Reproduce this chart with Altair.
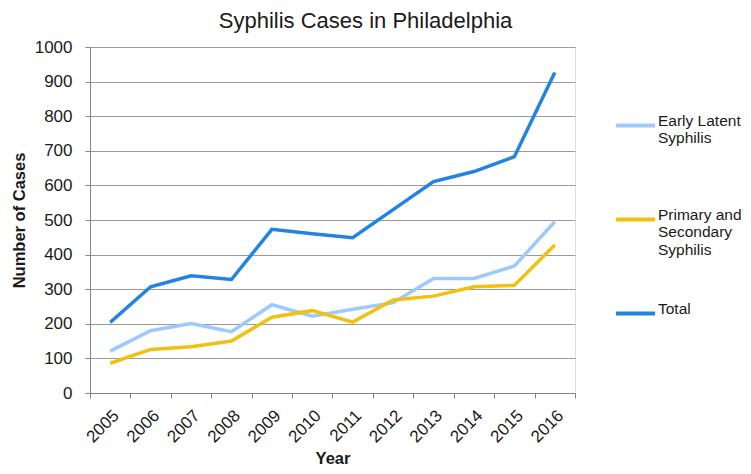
import altair as alt
import pandas as pd

years = ["2005", "2006", "2007", "2008", "2009", "2010", "2011", "2012", "2013", "2014", "2015", "2016"]
early_latent = [121, 180, 201, 177, 255, 222, 242, 261, 331, 331, 367, 495]
primary_secondary = [86, 126, 134, 150, 219, 238, 205, 269, 280, 307, 311, 428]
total = [204, 307, 339, 328, 473, 460, 449, 530, 611, 640, 683, 926]

series_names = ["Early Latent Syphilis", "Primary and Secondary Syphilis", "Total"]
series_colors = ["#9DC9FF", "#F2C010", "#2383E2"]

rows = []
for name, vals in zip(series_names, [early_latent, primary_secondary, total]):
    for y, v in zip(years, vals):
        rows.append({"Year": y, "Cases": v, "Series": name})
df = pd.DataFrame(rows)

FONT = "Liberation Sans"
TXT = "#1A1A1A"

label_expr = (
    "datum.label == 'Early Latent Syphilis' ? ['Early Latent', 'Syphilis'] : "
    "datum.label == 'Primary and Secondary Syphilis' ? ['Primary and', 'Secondary', 'Syphilis'] : datum.label"
)

chart = alt.Chart(df).mark_line(strokeWidth=3.5).encode(
    x=alt.X("Year:O", sort=years,
            scale=alt.Scale(type="band", paddingInner=0, paddingOuter=0),
            axis=alt.Axis(title="Year", labelAngle=-45, tickBand="extent",
                          tickSize=5, labelPadding=9, domainColor="#868686",
                          tickColor="#868686", labelColor=TXT,
                          labelFontSize=17, titleFontSize=16.5, titleFontWeight="bold",
                          titleColor=TXT, titlePadding=5, grid=False,
                          labelFont=FONT, titleFont=FONT)),
    y=alt.Y("Cases:Q",
            scale=alt.Scale(domain=[0, 1000], nice=False),
            axis=alt.Axis(title="Number of Cases", values=list(range(0, 1001, 100)),
                          format="d",
                          tickSize=5, labelPadding=13, domainColor="#868686",
                          tickColor="#868686", gridColor="#9A9A9A", gridWidth=1.2,
                          labelColor=TXT, labelFontSize=17, titleFontSize=16.5,
                          titleFontWeight="bold", titleColor=TXT, titlePadding=7,
                          labelFont=FONT, titleFont=FONT)),
    color=alt.Color("Series:N", sort=series_names,
                    scale=alt.Scale(domain=series_names, range=series_colors),
                    legend=alt.Legend(title=None, orient="none", legendX=524, legendY=57,
                                      symbolType="stroke", symbolSize=1521,
                                      symbolStrokeWidth=4, labelFontSize=15.5,
                                      labelFont=FONT, labelColor=TXT,
                                      labelExpr=label_expr, labelBaseline="alphabetic",
                                      gridAlign="all",
                                      labelOffset=1, rowPadding=34,
                                      labelLimit=200)),
).properties(
    width=485, height=346,
    title=alt.Title("Syphilis Cases in Philadelphia", fontSize=22, font=FONT,
                    fontWeight="normal", color=TXT, anchor="middle",
                    offset=5, dx=33),
    padding={"left": 82, "top": 39, "right": 168, "bottom": 73},
    autosize=alt.AutoSizeParams(type="none"),
).configure_view(stroke=None).configure(background="white")

chart.save("out.html", embed_options={"renderer": "svg", "actions": False})
